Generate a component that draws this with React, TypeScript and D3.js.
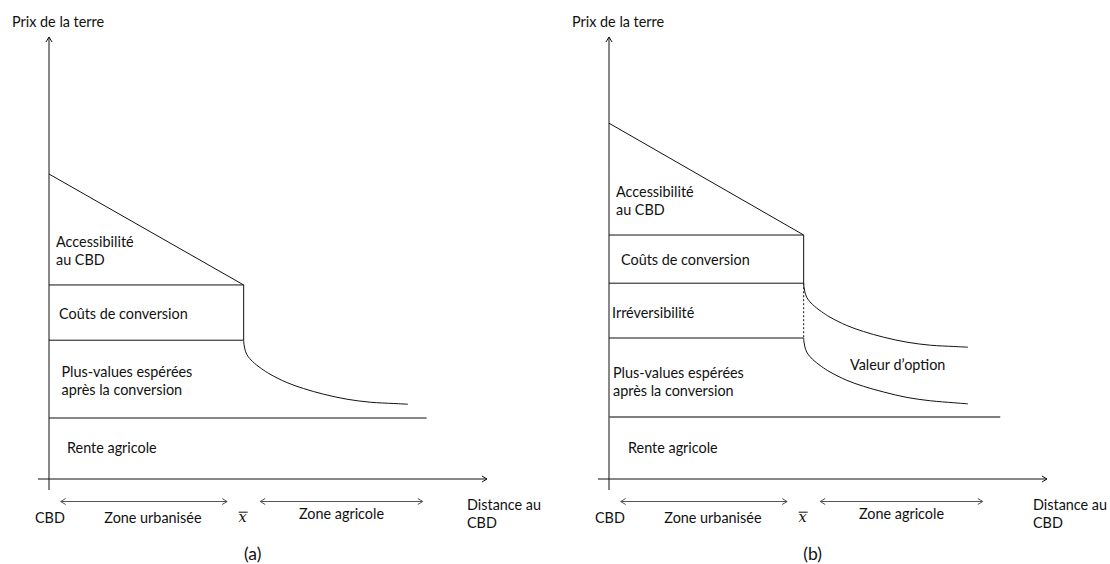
import React from "react";
import * as d3 from "d3";

// ---------- data (distance units along x, price units along y) ----------
const panels = ["(a)", "(b)"];
const yAxisTitle = "Prix de la terre";
const xAxisTitle = ["Distance au", "CBD"];
const bottomLabels = ["CBD", "Zone urbanisée", "Zone agricole"];

// key distances
const xbarDist = 20; // urban fringe x̄
const axisEndDist = 45;
const renteEndA = 38.8;
const renteEndB = 40.2;
const urbanZone = [1.2, 18.3];
const agriZone = [21.7, 38.4];

// panel (a) price levels: rente agricole, plus-values top, coûts top
const levelsA = [13.8, 31.4, 43.9];
const bidRentA = [69.0, 43.9];
// panel (b) levels: rente, plus-values top, irréversibilité top, coûts top
const levelsB = [14.0, 31.9, 44.3, 55.2];
const bidRentB = [80.5, 55.2];

// curves beyond x̄
const curveDist = [20, 20.03, 20.13, 20.31, 20.62, 20.92, 21.34, 21.85, 22.71, 24.43, 26.15, 28.22, 30.62, 33.02, 35.43, 36.88];
const curveA = [31.4, 30.5, 29.36, 28.23, 27.26, 26.56, 25.77, 24.93, 23.71, 21.83, 20.47, 19.18, 18.05, 17.37, 17.08, 16.92];
const curveBUpper = [44.3, 43.4, 42.26, 41.13, 40.16, 39.46, 38.67, 37.83, 36.61, 34.73, 33.37, 32.08, 30.95, 30.27, 29.98, 29.82];
const curveBLower = [31.9, 31.0, 29.86, 28.73, 27.76, 27.06, 26.27, 25.43, 24.21, 22.33, 20.97, 19.68, 18.45, 17.7, 17.25, 17.0];

const labelsA = [
  { lines: ["Accessibilité", "au CBD"], dx: 7, y: 246.7 },
  { lines: ["Coûts de conversion"], dx: 10, y: 319 },
  { lines: ["Plus-values espérées", "après la conversion"], dx: 12.5, y: 376.7 },
  { lines: ["Rente agricole"], dx: 18, y: 453 },
];
const labelsB = [
  { lines: ["Accessibilité", "au CBD"], dx: 7, y: 196.7 },
  { lines: ["Coûts de conversion"], dx: 12, y: 265 },
  { lines: ["Irréversibilité"], dx: 3, y: 318 },
  { lines: ["Plus-values espérées", "après la conversion"], dx: 4, y: 378 },
  { lines: ["Rente agricole"], dx: 19, y: 453 },
];

const FONT = "Lato, 'Open Sans', sans-serif";
const FS = 14.4;
const INK = "#111";

const y = d3.scaleLinear().domain([0, 100]).range([479, 37]);

function rightHead(tx: number, ty: number, s = 5, h = 3) {
  return `M${tx - s},${ty - h}L${tx},${ty}L${tx - s},${ty + h}`;
}
function leftHead(tx: number, ty: number, s = 5, h = 3) {
  return `M${tx + s},${ty - h}L${tx},${ty}L${tx + s},${ty + h}`;
}

function Panel({ idx }: { idx: number }) {
  const x0 = 49 + idx * 560;
  const x = d3.scaleLinear().domain([0, axisEndDist]).range([x0, x0 + 438]);
  const isB = idx === 1;
  const line = d3
    .line<[number, number]>()
    .x((d) => x(d[0]))
    .y((d) => y(d[1]))
    .curve(d3.curveCatmullRom.alpha(0.5));

  const levels = isB ? levelsB : levelsA;
  const bid = isB ? bidRentB : bidRentA;
  const renteEnd = isB ? renteEndB : renteEndA;
  const labels = isB ? labelsB : labelsA;
  const xb = x(xbarDist);
  const axY = y(0);
  const arrowY = axY + 22.5;
  const distLeft = isB ? x0 + 424 : x0 + 418;

  const curves = isB ? [curveBUpper, curveBLower] : [curveA];

  return (
    <g>
      {/* axes */}
      <line x1={x0} x2={x0} y1={y(100)} y2={axY + 11} stroke={INK} strokeWidth={1} />
      <path d={`M${x0 - 3},${y(100) + 5}L${x0},${y(100)}L${x0 + 3},${y(100) + 5}`} fill="none" stroke={INK} />
      <line x1={x0 - 11} x2={x(axisEndDist)} y1={axY} y2={axY} stroke={INK} strokeWidth={1} />
      <path d={rightHead(x(axisEndDist), axY)} fill="none" stroke={INK} />

      {/* rente agricole line */}
      <line x1={x0} x2={x(renteEnd)} y1={y(levels[0])} y2={y(levels[0])} stroke={isB ? "#555" : INK} strokeWidth={isB ? 1.5 : 1} />
      {/* horizontal levels up to x̄ */}
      {levels.slice(1).map((lv, i) => (
        <line key={i} x1={x0} x2={xb} y1={y(lv)} y2={y(lv)} stroke={INK} strokeWidth={1} />
      ))}
      {/* bid rent */}
      <line x1={x0} y1={y(bid[0])} x2={xb} y2={y(bid[1])} stroke={INK} strokeWidth={1} />
      {/* vertical at x̄ */}
      {isB ? (
        <>
          <line x1={xb} x2={xb} y1={y(levelsB[3])} y2={y(levelsB[2])} stroke={INK} />
          <line x1={xb} x2={xb} y1={y(levelsB[2])} y2={y(levelsB[1])} stroke={INK} strokeDasharray="2,2" />
        </>
      ) : (
        <line x1={xb} x2={xb} y1={y(levelsA[2])} y2={y(levelsA[1])} stroke={INK} />
      )}
      {curves.map((c, i) => (
        <path
          key={i}
          d={line(curveDist.map((d, j) => [d, c[j]] as [number, number])) || ""}
          fill="none"
          stroke={INK}
          strokeWidth={1}
        />
      ))}

      {/* texts */}
      <text x={x0 - 37} y={27} fontFamily={FONT} fontSize={FS} fill={INK}>
        {yAxisTitle}
      </text>
      {labels.map((l, i) => (
        <text key={i} x={x0 + l.dx} y={l.y} fontFamily={FONT} fontSize={FS} fill={INK}>
          {l.lines.map((t, j) => (
            <tspan key={j} x={x0 + l.dx} dy={j === 0 ? 0 : 18.3}>
              {t}
            </tspan>
          ))}
        </text>
      ))}
      {isB && (
        <text x={850} y={370} fontFamily={FONT} fontSize={FS} fill={INK}>
          Valeur d’option
        </text>
      )}

      {/* zone arrows */}
      {[urbanZone, agriZone].map((z, i) => (
        <g key={i} stroke="#555" fill="none">
          <line x1={x(z[0])} x2={x(z[1])} y1={arrowY} y2={arrowY} />
          <path d={leftHead(x(z[0]), arrowY)} />
          <path d={rightHead(x(z[1]), arrowY)} />
        </g>
      ))}
      <text x={x0 - 14} y={522.7} fontFamily={FONT} fontSize={FS} fill={INK}>
        {bottomLabels[0]}
      </text>
      <text x={(x(urbanZone[0]) + x(urbanZone[1])) / 2 + 9} y={523} textAnchor="middle" fontFamily={FONT} fontSize={FS} fill={INK}>
        {bottomLabels[1]}
      </text>
      <text x={(x(agriZone[0]) + x(agriZone[1])) / 2} y={518.5} textAnchor="middle" fontFamily={FONT} fontSize={FS} fill={INK}>
        {bottomLabels[2]}
      </text>
      <text x={xb - 1} y={521.5} textAnchor="middle" fontFamily="'DejaVu Serif', serif" fontStyle="italic" fontSize={14.5} fill={INK}>
        x
      </text>
      <line x1={xb - 5} x2={xb + 4} y1={512.2} y2={512.2} stroke={INK} strokeWidth={1} />
      <text x={distLeft} y={510} fontFamily={FONT} fontSize={FS} fill={INK}>
        <tspan x={distLeft}>{xAxisTitle[0]}</tspan>
        <tspan x={distLeft} dy={18}>
          {xAxisTitle[1]}
        </tspan>
      </text>
      <text x={xb + 9} y={560} textAnchor="middle" fontFamily={FONT} fontSize={17.5} fill={INK}>
        {panels[idx]}
      </text>
    </g>
  );
}

export default function App() {
  return (
    <svg
      width={1110}
      height={564}
      viewBox="0 0 1110 564"
      style={{ position: "absolute", left: 0, top: 0, background: "#fff" }}
    >
      <rect width={1110} height={564} fill="#fff" />
      {panels.map((_, i) => (
        <Panel key={i} idx={i} />
      ))}
    </svg>
  );
}
